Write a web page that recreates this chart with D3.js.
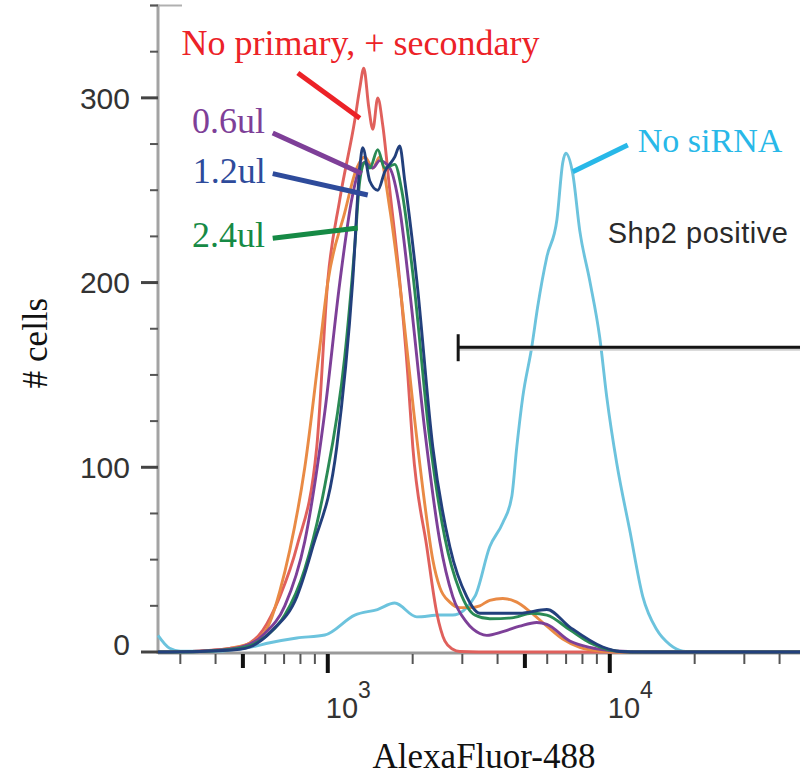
<!DOCTYPE html>
<html>
<head>
<meta charset="utf-8">
<script src="https://cdn.jsdelivr.net/npm/d3@7"></script>
<style>
  body { margin: 0; background: #fff; }
  svg { display: block; }
</style>
</head>
<body>
<svg id="chart" width="800" height="776"></svg>
<script>
// Flow cytometry histograms: [AlexaFluor-488 intensity, # cells]
const noPrimary = [
  [250, 0], [351, 0.5], [487, 2.7], [589, 11.9], [676, 30], [777, 57], [914, 111],
  [1000, 201], [1103, 245], [1247, 288], [1298, 305], [1342, 316], [1397, 295],
  [1445, 283], [1504, 300], [1567, 285], [1659, 250], [1799, 201], [1922, 150],
  [2002, 111], [2244, 57], [2436, 21], [2600, 6], [2775, 1.5], [2938, 0.3],
  [4000, 0], [10000, 0], [48000, 0]
];
const orangeSample = [
  [250, 0], [351, 0.5], [449, 2], [551, 6], [623, 16], [676, 33], [733, 55], [829, 100],
  [937, 165], [1000, 200], [1149, 238], [1267, 262], [1352, 268], [1445, 262],
  [1528, 268], [1659, 240], [1829, 190], [2018, 130], [2208, 80], [2357, 50],
  [2496, 35], [2709, 27], [2938, 24], [3190, 24], [3460, 25], [3752, 28], [4175, 29],
  [4680, 27], [5200, 22], [5983, 14], [6813, 7], [7828, 2.5], [9218, 0.5],
  [10846, 0], [48000, 0]
];
const ul06 = [
  [250, 0], [351, 0.5], [487, 2.5], [598, 10], [704, 25], [829, 60], [976, 130],
  [1103, 200], [1216, 245], [1298, 262], [1352, 265], [1445, 262], [1528, 266],
  [1659, 262], [1799, 240], [1954, 195], [2208, 120], [2496, 60], [2775, 30],
  [3110, 16], [3460, 10], [3662, 9], [4175, 11], [4795, 14], [5508, 16], [5983, 15],
  [7215, 6], [8492, 2.5], [10000, 0.8], [11767, 0.2], [14000, 0], [48000, 0]
];
const ul24 = [
  [250, 0], [351, 0.3], [487, 2], [598, 8], [704, 20], [829, 45], [976, 90],
  [1149, 160], [1247, 220], [1298, 255], [1352, 265], [1409, 262], [1504, 272],
  [1592, 262], [1728, 264], [1829, 250], [2002, 205], [2300, 115], [2600, 62],
  [2938, 33], [3322, 20], [3752, 18], [4491, 18.5], [5287, 21], [5983, 20],
  [7215, 12], [8492, 5], [9757, 1.5], [10846, 0.3], [13000, 0], [48000, 0]
];
const ul12 = [
  [250, 0], [351, 0.3], [487, 1.5], [529, 2.7], [638, 11.9], [777, 30], [885, 57],
  [1076, 111], [1226, 201], [1298, 262], [1330, 273], [1409, 255], [1504, 250],
  [1592, 260], [1728, 268], [1799, 274], [1875, 255], [2069, 201], [2357, 111],
  [2709, 57], [3110, 30], [3460, 21], [4073, 21], [4795, 21], [5983, 23],
  [7215, 13.5], [9448, 2.7], [10846, 0.3], [13000, 0], [48000, 0]
];
const noSiRNA = [
  [250, 9], [275, 2], [300, 0.5], [351, 0.5], [414, 0.5], [449, 1], [529, 2.5],
  [623, 5], [777, 7.6], [976, 9.2], [1247, 20], [1500, 23], [1728, 26.5], [2069, 19],
  [2500, 20], [2775, 20], [3322, 30], [3752, 57], [4175, 70], [4491, 84], [4680, 111],
  [4913, 138], [5287, 165], [5552, 187], [5983, 214], [6494, 234], [6813, 265],
  [6979, 270], [7389, 259], [7828, 228], [8492, 201], [9218, 170], [9757, 138],
  [10588, 102], [11767, 66], [13093, 30], [14683, 12], [16327, 4], [18160, 0.5],
  [20850, 0], [48000, 0]
];

// Axis ticks
const xDomain = [250, 48000];
const yDomain = [0, 350];
const xDecades = [1000, 10000];
const xDecadeExponents = ["3", "4"];
const xMidTicks = [500, 5000];
const xMinorTicks = [300, 400, 600, 700, 800, 900, 2000, 3000, 4000,
                     6000, 7000, 8000, 9000, 20000, 30000, 40000];
const yMajorTicks = [0, 100, 200, 300];
const yMinorTicks = [25, 50, 75, 125, 150, 175, 225, 250, 275, 325, 350];

// "Shp2 positive" gate
const gateStart = 2900;
const gateLevel = 165;

const svg = d3.select("#chart");

const x = d3.scaleLog().domain(xDomain).range([158, 158 + 282 * Math.log10(xDomain[1] / xDomain[0])]);
const y = d3.scaleLinear().domain(yDomain).range([652, 5.5]);

const defs = svg.append("defs");
defs.append("filter").attr("id", "soft")
  .attr("x", "-5%").attr("y", "-5%").attr("width", "110%").attr("height", "110%")
  .append("feGaussianBlur").attr("stdDeviation", 0.6);

// ---- axes ----
const axisG = svg.append("g");

// x axis baseline
axisG.append("line")
  .attr("x1", 158).attr("x2", 800).attr("y1", y(0) + 1).attr("y2", y(0) + 1)
  .attr("stroke", "#9a9a9a").attr("stroke-width", 3);

// y axis line
axisG.append("line")
  .attr("x1", 158).attr("x2", 158).attr("y1", y(350) - 1).attr("y2", y(0) + 2)
  .attr("stroke", "#a3a3a3").attr("stroke-width", 3);

axisG.append("line")
  .attr("x1", 150).attr("x2", 182).attr("y1", y(350)).attr("y2", y(350))
  .attr("stroke", "#b0b0b0").attr("stroke-width", 2);

// y ticks
axisG.selectAll(".ymaj").data(yMajorTicks).join("line")
  .attr("x1", 141).attr("x2", 158)
  .attr("y1", d => y(d)).attr("y2", d => y(d))
  .attr("stroke", "#444").attr("stroke-width", 3);

axisG.selectAll(".ymin").data(yMinorTicks).join("line")
  .attr("x1", 150).attr("x2", 158)
  .attr("y1", d => y(d)).attr("y2", d => y(d))
  .attr("stroke", "#555").attr("stroke-width", 2);

axisG.selectAll(".ylab").data(yMajorTicks).join("text")
  .attr("x", 130)
  .attr("y", d => y(d) + (d === 0 ? -8 : 0))
  .attr("dy", "0.36em")
  .attr("text-anchor", "end")
  .attr("font-family", "'Liberation Sans', Arial, sans-serif")
  .attr("font-size", 30)
  .attr("fill", "#333")
  .text(d => d);

// x ticks
const yb = y(0) + 2;
axisG.selectAll(".xmin").data(xMinorTicks).join("line")
  .attr("x1", d => x(d)).attr("x2", d => x(d))
  .attr("y1", yb).attr("y2", yb + 10)
  .attr("stroke", "#555").attr("stroke-width", 2);

axisG.selectAll(".xmid").data(xMidTicks).join("line")
  .attr("x1", d => x(d)).attr("x2", d => x(d))
  .attr("y1", yb).attr("y2", yb + 14)
  .attr("stroke", "#111").attr("stroke-width", 4);

axisG.selectAll(".xmaj").data(xDecades).join("line")
  .attr("x1", d => x(d)).attr("x2", d => x(d))
  .attr("y1", yb).attr("y2", yb + 19)
  .attr("stroke", "#111").attr("stroke-width", 4);

const xl = axisG.selectAll(".xlab").data(xDecades).join("text")
  .attr("x", d => x(d) - 2)
  .attr("y", 718)
  .attr("font-family", "'Liberation Sans', Arial, sans-serif")
  .attr("fill", "#333");
xl.append("tspan").attr("font-size", 29).text("10");
xl.append("tspan").attr("font-size", 23).attr("dy", -20)
  .text((d, i) => xDecadeExponents[i]);

// axis titles
svg.append("text")
  .attr("x", 484).attr("y", 768)
  .attr("text-anchor", "middle")
  .attr("font-family", "'Liberation Serif', 'Times New Roman', serif")
  .attr("font-size", 35)
  .attr("fill", "#111")
  .text("AlexaFluor-488");

svg.append("text")
  .attr("transform", "translate(47,343) rotate(-90)")
  .attr("text-anchor", "middle")
  .attr("font-family", "'Liberation Serif', 'Times New Roman', serif")
  .attr("font-size", 35)
  .attr("fill", "#111")
  .text("# cells");

// ---- histograms ----
const line = d3.line()
  .x(d => x(d[0]))
  .y(d => y(d[1]))
  .curve(d3.curveMonotoneX);

const series = [
  { data: noSiRNA, color: "#6cc3dd" },
  { data: noPrimary, color: "#e0605c" },
  { data: orangeSample, color: "#e98a45" },
  { data: ul06, color: "#7d3f98" },
  { data: ul24, color: "#2b8a55" },
  { data: ul12, color: "#233f7c" }
];

svg.append("g").attr("filter", "url(#soft)")
  .selectAll("path").data(series).join("path")
  .attr("d", d => line(d.data))
  .attr("fill", "none")
  .attr("stroke", d => d.color)
  .attr("stroke-width", 2.9)
  .attr("stroke-linejoin", "round");

// ---- gate ----
const gateG = svg.append("g");
gateG.append("line")
  .attr("x1", x(gateStart)).attr("x2", 800)
  .attr("y1", y(gateLevel) + 2).attr("y2", y(gateLevel) + 2)
  .attr("stroke", "#cfcfcf").attr("stroke-width", 3);
gateG.append("line")
  .attr("x1", x(gateStart)).attr("x2", 800)
  .attr("y1", y(gateLevel)).attr("y2", y(gateLevel))
  .attr("stroke", "#151515").attr("stroke-width", 3);
gateG.append("line")
  .attr("x1", x(gateStart)).attr("x2", x(gateStart))
  .attr("y1", y(gateLevel) - 13).attr("y2", y(gateLevel) + 14)
  .attr("stroke", "#151515").attr("stroke-width", 3);

svg.append("text")
  .attr("x", x(9838)).attr("y", y(221.4))
  .attr("font-family", "'Liberation Sans', Arial, sans-serif")
  .attr("font-size", 29)
  .attr("letter-spacing", 0.5)
  .attr("fill", "#2a2a2a")
  .text("Shp2 positive");

// ---- annotations: label + leader line ----
const annotations = [
  { text: "No primary, + secondary", color: "#ec2227", at: [303, 323], from: [783, 313.5], to: [1299, 289] },
  { text: "0.6ul", color: "#7e3f98", at: [330, 281], from: [638, 281], to: [1320, 259] },
  { text: "1.2ul", color: "#2e4b9b", at: [332, 254], from: [638, 259], to: [1386, 247.4] },
  { text: "2.4ul", color: "#168a45", at: [330, 219], from: [638, 224], to: [1277, 229.6] },
  { text: "No siRNA", color: "#28b8e8", at: [12572, 270.7], from: [7393, 260], to: [11583, 274.5] }
];

const ann = svg.append("g");
ann.selectAll("line").data(annotations).join("line")
  .attr("x1", d => x(d.from[0])).attr("y1", d => y(d.from[1]))
  .attr("x2", d => x(d.to[0])).attr("y2", d => y(d.to[1]))
  .attr("stroke", d => d.color).attr("stroke-width", 5);

ann.selectAll("text").data(annotations).join("text")
  .attr("x", d => x(d.at[0])).attr("y", d => y(d.at[1]))
  .attr("font-family", "'Liberation Serif', 'Times New Roman', serif")
  .attr("font-size", d => d.text === "No siRNA" ? 34 : 36)
  .attr("fill", d => d.color)
  .text(d => d.text);
</script>
</body>
</html>
